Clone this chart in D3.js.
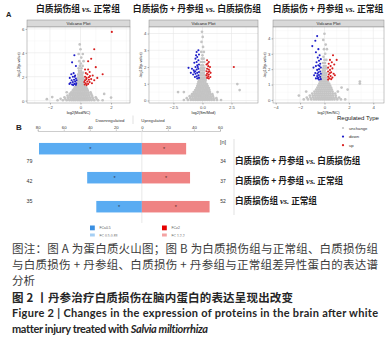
<!DOCTYPE html>
<html>
<head>
<meta charset="utf-8">
<script src="https://cdn.jsdelivr.net/npm/d3@7"></script>
<style>
  body { margin: 0; background: #fff; }
</style>
</head>
<body>
<div id="chart"></div>
<script>
// ---- data ----
var panelTitles = [
  ["白质损伤组", "vs.", "正常组"],
  ["白质损伤 + 丹参组", "vs.", "白质损伤组"],
  ["白质损伤 + 丹参组", "vs.", "正常组"]
];
var xLabels = ["log2(Mod/NC)", "log2(Sm/Mod)", "log2(Sm/NC)"];
var xTickVals = [[-2, 0, 2], [-2.5, 0, 2.5], [-4, -2, 0, 2, 4]];
var yTickVals = [[0, 2, 4, 6], [0, 1, 2, 3, 4], [0, 1, 2, 3, 4]];
var typeNames = ["unchange", "down", "up"];

// unchanged proteins, rows of [-log10 p, log2FC, log2FC, ...]
var flat1 = [
  [0.03, -1.5, -1.15, -0.9, -0.72, -0.58, -0.45, -0.33, -0.2, -0.08, 0.05, 0.17, 0.3, 0.43, 0.57, 0.72, 0.9, 1.15, 1.45],
  [0.15, -1.3, -1.0, -0.8, -0.64, -0.5, -0.38, -0.26, -0.14, -0.02, 0.1, 0.23, 0.36, 0.5, 0.65, 0.82, 1.05],
  [0.28, -1.05, -0.82, -0.66, -0.52, -0.4, -0.28, -0.16, -0.04, 0.08, 0.2, 0.33, 0.46, 0.6, 0.78, 1.0],
  [0.42, -0.85, -0.68, -0.54, -0.42, -0.3, -0.18, -0.06, 0.06, 0.18, 0.3, 0.43, 0.57, 0.75],
  [0.56, -0.7, -0.56, -0.44, -0.32, -0.2, -0.08, 0.04, 0.16, 0.28, 0.4, 0.53, 0.7, 1.55],
  [0.7, -0.9, -0.6, -0.47, -0.35, -0.23, -0.11, 0.01, 0.13, 0.25, 0.37, 0.5, 0.66],
  [0.85, -0.5, -0.38, -0.26, -0.14, -0.02, 0.1, 0.22, 0.34, 0.47],
  [1.0, -0.42, -0.3, -0.18, -0.06, 0.06, 0.18, 0.3, 0.42],
  [1.15, -0.35, -0.23, -0.11, 0.01, 0.13, 0.25, 0.36],
  [1.3, -0.24, -0.12, 0, 0.12, 0.24],
  [1.45, -0.2, -0.08, 0.04, 0.16],
  [1.6, -0.18, -0.06, 0.06, 0.18],
  [1.75, -0.15, -0.03, 0.09, 0.2],
  [1.9, -0.16, -0.04, 0.08, 0.18],
  [2.05, -0.12, 0, 0.12],
  [2.2, -0.14, -0.02, 0.1],
  [2.35, -0.08, 0.05, 0.17],
  [2.5, -0.1, 0.03],
  [2.7, 0.06, -0.12],
  [2.9, -0.04, 0.14],
  [3.1, 0.02],
  [3.3, -0.08, 0.2],
  [3.6, 0.05],
  [3.9, -0.12, 0.15],
  [4.3, 0.0],
  [4.7, -0.05],
  [0.3, -1.85], [0.12, -2.2], [0.25, 2.0]
];
var down1 = [[-0.4, 3.8], [-0.55, 3.2], [-0.3, 2.9], [-0.45, 2.3], [-0.6, 2.2], [-0.35, 2.1], [-0.5, 2.0],
  [-0.7, 1.9], [-0.3, 1.85], [-0.42, 1.75], [-0.58, 1.7], [-0.35, 1.6], [-0.5, 1.55], [-0.65, 1.5],
  [-0.28, 1.45], [-0.4, 1.4], [-0.55, 1.35], [-0.3, 1.32], [-0.48, 1.3], [-0.72, 1.4], [-0.38, 2.0], [-0.26, 1.7]];
var up1 = [[2.05, 5.75], [0.9, 4.3], [0.7, 3.5], [0.5, 3.3], [1.0, 2.8], [1.45, 2.2], [0.3, 2.6], [0.35, 2.3],
  [0.45, 2.2], [0.6, 2.4], [0.8, 2.1], [0.3, 2.0], [0.4, 1.9], [0.55, 1.95], [0.7, 1.8], [0.9, 1.7],
  [0.3, 1.7], [0.45, 1.6], [0.6, 1.55], [0.35, 1.45], [0.5, 1.4], [0.75, 1.45], [0.28, 1.35], [0.4, 1.3],
  [0.62, 2.05], [0.5, 2.6], [1.1, 1.9], [0.38, 1.8], [0.25, 1.55], [0.55, 1.75]];

var flat2 = [
  [0.03, -1.6, -1.25, -1.0, -0.8, -0.62, -0.46, -0.3, -0.15, 0, 0.15, 0.3, 0.46, 0.62, 0.8, 1.0, 1.25, 1.6],
  [0.14, -1.35, -1.05, -0.85, -0.66, -0.5, -0.34, -0.18, -0.03, 0.12, 0.27, 0.42, 0.58, 0.75, 0.95, 1.2],
  [0.26, -1.1, -0.88, -0.7, -0.54, -0.38, -0.22, -0.07, 0.08, 0.23, 0.38, 0.54, 0.7, 0.9],
  [0.38, -0.9, -0.72, -0.56, -0.4, -0.25, -0.1, 0.05, 0.2, 0.35, 0.5, 0.66, 0.85],
  [0.5, -2.1, -1.6, -0.75, -0.58, -0.42, -0.27, -0.12, 0.03, 0.18, 0.33, 0.48, 0.64, 1.3],
  [0.62, -0.62, -0.46, -0.3, -0.15, 0, 0.15, 0.3, 0.45, 0.6, 3.2],
  [0.74, -0.52, -0.36, -0.2, -0.05, 0.1, 0.25, 0.4, 0.55],
  [0.86, -0.45, -0.3, -0.15, 0, 0.15, 0.3, 0.45],
  [0.98, -0.4, -0.24, -0.08, 0.08, 0.24, 0.38, 3.0],
  [1.1, -0.35, -0.2, -0.05, 0.1, 0.25],
  [1.22, -0.3, -0.15, 0, 0.15, 0.28],
  [1.35, -0.22, -0.08, 0.06, 0.2],
  [1.5, -0.2, -0.05, 0.1, 0.22],
  [1.65, -0.18, -0.03, 0.12],
  [1.8, -0.15, 0, 0.15],
  [1.95, -0.12, 0.03, 0.16],
  [2.1, -0.1, 0.05],
  [2.3, -0.14, 0.02, 0.15],
  [2.5, -0.05, 0.1],
  [2.7, 0.0],
  [2.9, -0.1, 0.12],
  [3.2, 0.05],
  [3.5, -0.08],
  [3.8, 0.02],
  [4.1, -0.04]
];
var down2 = [[-0.35, 3.0], [-0.5, 2.9], [-0.3, 2.75], [-0.45, 2.6], [-0.6, 2.5], [-0.35, 2.4], [-0.5, 2.3],
  [-0.7, 2.25], [-0.3, 2.15], [-0.45, 2.1], [-0.6, 2.0], [-1.2, 1.95], [-0.9, 1.9], [-0.35, 1.9], [-0.5, 1.85],
  [-0.75, 1.8], [-0.3, 1.7], [-0.45, 1.65], [-0.6, 1.6], [-0.8, 1.55], [-0.35, 1.5], [-0.5, 1.45], [-0.65, 1.4],
  [-0.3, 1.35], [-0.45, 1.32], [-0.7, 1.7], [-1.0, 1.65], [-0.55, 2.7], [-0.4, 2.0], [-0.62, 1.75]];
var up2 = [[2.7, 2.0], [0.4, 2.4], [0.55, 2.3], [0.35, 2.15], [0.5, 2.05], [0.65, 2.0], [0.4, 1.9], [0.55, 1.85],
  [0.35, 1.75], [0.5, 1.7], [0.7, 1.65], [0.4, 1.6], [0.55, 1.55], [0.35, 1.5], [0.5, 1.45], [0.68, 1.4],
  [0.4, 1.35], [0.55, 1.32], [0.45, 2.2], [0.6, 1.75]];

var flat3 = [
  [0.03, -1.7, -1.35, -1.08, -0.86, -0.68, -0.5, -0.34, -0.18, -0.02, 0.14, 0.3, 0.46, 0.63, 0.82, 1.05, 1.35, 1.7],
  [0.15, -1.45, -1.15, -0.92, -0.73, -0.56, -0.4, -0.24, -0.08, 0.08, 0.24, 0.4, 0.56, 0.74, 0.95, 1.2],
  [0.28, -2.1, -1.2, -0.96, -0.77, -0.6, -0.44, -0.28, -0.12, 0.04, 0.2, 0.36, 0.52, 0.7, 0.92],
  [0.41, -1.0, -0.8, -0.62, -0.46, -0.3, -0.14, 0.02, 0.18, 0.34, 0.5, 0.68, 0.88],
  [0.54, -1.5, -0.82, -0.64, -0.48, -0.32, -0.16, 0, 0.16, 0.32, 0.48, 0.66, 1.1],
  [0.67, -0.68, -0.52, -0.36, -0.2, -0.04, 0.12, 0.28, 0.44, 0.6, 1.9],
  [0.8, -0.58, -0.42, -0.26, -0.1, 0.06, 0.22, 0.38, 0.54, 1.4],
  [0.93, -0.5, -0.34, -0.18, -0.02, 0.14, 0.3, 0.46],
  [1.06, -0.42, -0.26, -0.1, 0.06, 0.22, 0.38, 2.9],
  [1.19, -0.36, -0.2, -0.04, 0.12, 0.28, 2.9],
  [1.32, -0.28, -0.12, 0.04, 0.2],
  [1.45, -0.22, -0.06, 0.1],
  [1.6, -0.2, -0.04, 0.12],
  [1.75, -0.16, 0, 0.15],
  [1.9, -0.14, 0.02],
  [2.05, -0.1, 0.06, 0.2],
  [2.2, -0.06, 0.1],
  [2.4, -0.12, 0.04],
  [2.6, 0.0, 0.15],
  [2.8, -0.08],
  [3.0, 0.06],
  [3.3, -0.04, 0.2],
  [3.6, 0.1],
  [3.9, -0.1],
  [4.3, 0.0]
];
var down3 = [[-0.6, 4.15], [-0.75, 3.85], [-1.0, 3.5], [-0.5, 3.3], [-0.7, 3.1], [-0.4, 2.9], [-0.55, 2.75],
  [-0.3, 2.65], [-0.45, 2.55], [-0.65, 2.45], [-0.35, 2.35], [-0.5, 2.25], [-0.7, 2.2], [-0.9, 2.1], [-0.3, 2.1],
  [-0.45, 2.0], [-0.6, 1.95], [-0.35, 1.85], [-0.5, 1.8], [-0.75, 1.75], [-0.3, 1.7], [-0.45, 1.62], [-0.6, 1.55],
  [-0.35, 1.5], [-0.5, 1.45], [-0.7, 1.4], [-0.3, 1.35], [-0.45, 1.32], [-0.58, 1.7], [-0.4, 2.2], [-0.55, 1.4], [-0.85, 1.6]];
var up3 = [[0.7, 2.9], [0.45, 2.6], [1.0, 2.6], [0.6, 2.45], [0.35, 2.35], [0.8, 2.3], [0.5, 2.2], [0.3, 2.1],
  [0.65, 2.05], [0.45, 1.95], [0.3, 1.85], [0.55, 1.8], [0.75, 1.7], [0.35, 1.65], [0.5, 1.55], [0.3, 1.5],
  [0.65, 1.45], [0.4, 1.4], [0.55, 1.35], [0.3, 1.32], [0.85, 1.6], [0.45, 1.75]];

// panel B
var barComparisons = ["白质损伤 + 丹参组 vs. 白质损伤组", "白质损伤 + 丹参组 vs. 正常组", "白质损伤组 vs. 正常组"];
var downCounts = [79, 42, 35];
var upCounts = [34, 37, 52];
var barTicks = [-80, -60, -40, -20, 0, 20, 40, 60];
var fcLegend = [["FC≤0.5", "FC≥2"], ["FC 0.5-0.83", "FC 1.2-2"]];

var captionLines = [
  "图注：图 A 为蛋白质火山图；图 B 为白质损伤组与正常组、白质损伤组",
  "与白质损伤 + 丹参组、白质损伤 + 丹参组与正常组差异性蛋白的表达谱",
  "分析"
];
var figTitleCn = "图 2 丨丹参治疗白质损伤在脑内蛋白的表达呈现出改变";
var figTitleEn = "Figure 2  |  Changes in the expression of proteins in the brain after white";
var figTitleEn2 = ["matter injury treated with ", "Salvia miltiorrhiza"];

// ---- layout ----
var W = 388, H = 344;
var CJK = "'Noto Sans CJK SC', sans-serif";
var SANS = "'Liberation Sans', Arial, sans-serif";
var typeColor = { unchange: "#c4c4c4", down: "#1f1fc8", up: "#d81e1e" };

var panels = [
  { left: 27, right: 130, top: 27, bottom: 103, xDom: [-3.5, 3.24], yDom: [-0.2, 6.16], titleX: 78,
    flat: flat1, down: down1, up: up1, fmt: d3.format("d") },
  { left: 149, right: 258, top: 27, bottom: 103, xDom: [-4.6, 4.78], yDom: [-0.15, 4.39], titleX: 197,
    flat: flat2, down: down2, up: up2, fmt: d3.format(".1f") },
  { left: 273, right: 384, top: 27, bottom: 103, xDom: [-4.22, 4.88], yDom: [-0.2, 4.74], titleX: 328,
    flat: flat3, down: down3, up: up3, fmt: d3.format("d") }
];

var svg = d3.select("#chart").append("svg")
  .attr("width", W).attr("height", H)
  .style("background", "#fff");

function addVs(textSel, parts) {
  textSel.append("tspan").text(parts[0] + " ");
  textSel.append("tspan").attr("font-family", "'Liberation Serif', serif")
    .attr("font-style", "italic").attr("font-weight", "bold").text(parts[1]);
  textSel.append("tspan").text(" " + parts[2]);
}

// panel letters
svg.append("text").attr("x", 6).attr("y", 17).text("A")
  .attr("font-family", SANS).attr("font-weight", "bold").attr("font-size", 7.5).attr("fill", "#222");
svg.append("text").attr("x", 16).attr("y", 130).text("B")
  .attr("font-family", SANS).attr("font-weight", "bold").attr("font-size", 8).attr("fill", "#222");

panels.forEach(function(p, i) {
  var x = d3.scaleLinear().domain(p.xDom).range([p.left, p.right]);
  var y = d3.scaleLinear().domain(p.yDom).range([p.bottom, p.top]);
  var g = svg.append("g");

  // title
  var t = g.append("text").attr("x", p.titleX).attr("y", 12)
    .attr("text-anchor", "middle").attr("font-family", CJK).attr("font-weight", "bold")
    .attr("font-size", 8.8).attr("fill", "#1a1a1a");
  addVs(t, panelTitles[i]);

  // strip
  g.append("rect").attr("x", p.left).attr("y", p.top - 7).attr("width", p.right - p.left).attr("height", 7)
    .attr("fill", "#d9d9d9").attr("stroke", "#8c8c8c").attr("stroke-width", 0.5);
  g.append("text").attr("x", (p.left + p.right) / 2).attr("y", p.top - 2)
    .attr("text-anchor", "middle").attr("font-family", SANS).attr("font-size", 4.3)
    .attr("fill", "#1a1a1a").text("Volcano Plot");

  // panel + grid
  g.append("rect").attr("x", p.left).attr("y", p.top).attr("width", p.right - p.left).attr("height", p.bottom - p.top)
    .attr("fill", "#fff");
  var xt = xTickVals[i], yt = yTickVals[i];
  var xs = xt[1] - xt[0], ys = yt[1] - yt[0];
  var xMinor = d3.range(-1, xt.length).map(function(k) { return xt[0] + xs * (k + 0.5); })
    .filter(function(v) { return v > p.xDom[0] && v < p.xDom[1]; });
  var yMinor = d3.range(-1, yt.length).map(function(k) { return yt[0] + ys * (k + 0.5); })
    .filter(function(v) { return v > p.yDom[0] && v < p.yDom[1]; });
  g.selectAll(".vminor").data(xMinor).enter().append("line")
    .attr("x1", x).attr("x2", x).attr("y1", p.top).attr("y2", p.bottom)
    .attr("stroke", "#f2f2f2").attr("stroke-width", 0.4);
  g.selectAll(".hminor").data(yMinor).enter().append("line")
    .attr("y1", y).attr("y2", y).attr("x1", p.left).attr("x2", p.right)
    .attr("stroke", "#f2f2f2").attr("stroke-width", 0.4);
  g.selectAll(".vmajor").data(xt).enter().append("line")
    .attr("x1", x).attr("x2", x).attr("y1", p.top).attr("y2", p.bottom)
    .attr("stroke", "#e6e6e6").attr("stroke-width", 0.6);
  g.selectAll(".hmajor").data(yt).enter().append("line")
    .attr("y1", y).attr("y2", y).attr("x1", p.left).attr("x2", p.right)
    .attr("stroke", "#e6e6e6").attr("stroke-width", 0.6);

  // points
  var flatPts = [];
  p.flat.forEach(function(row) {
    row.slice(1).forEach(function(fc) { flatPts.push([fc, row[0], "unchange"]); });
  });
  var pts = flatPts
    .concat(p.down.map(function(d) { return [d[0], d[1], "down"]; }))
    .concat(p.up.map(function(d) { return [d[0], d[1], "up"]; }));
  g.selectAll(".pt").data(pts).enter().append("circle")
    .attr("cx", function(d) { return x(d[0]); })
    .attr("cy", function(d) { return y(d[1]); })
    .attr("r", function(d) { return d[2] === "unchange" ? 1.35 : 1.05; })
    .attr("fill", function(d) { return typeColor[d[2]]; });

  g.append("rect").attr("x", p.left).attr("y", p.top).attr("width", p.right - p.left).attr("height", p.bottom - p.top)
    .attr("fill", "none").attr("stroke", "#8c8c8c").attr("stroke-width", 0.5);

  // axes
  var ax = g.append("g").attr("transform", "translate(0," + p.bottom + ")")
    .call(d3.axisBottom(x).tickValues(xt).tickSize(1.5).tickPadding(1).tickFormat(p.fmt));
  var ay = g.append("g").attr("transform", "translate(" + p.left + ",0)")
    .call(d3.axisLeft(y).tickValues(yt).tickSize(1.5).tickPadding(1).tickFormat(d3.format("d")));
  [ax, ay].forEach(function(a) {
    a.select(".domain").remove();
    a.selectAll("line").attr("stroke", "#4d4d4d").attr("stroke-width", 0.4);
    a.selectAll("text").attr("font-family", SANS).attr("font-size", 4.3).attr("fill", "#4d4d4d");
  });

  g.append("text").attr("x", (p.left + p.right) / 2).attr("y", p.bottom + 10.5)
    .attr("text-anchor", "middle").attr("font-family", SANS).attr("font-size", 3.8)
    .attr("fill", "#1a1a1a").text(xLabels[i]);
  g.append("text").attr("transform", "translate(" + (p.left - 7) + "," + ((p.top + p.bottom) / 2) + ") rotate(-90)")
    .attr("text-anchor", "middle").attr("font-family", SANS).attr("font-size", 3.8)
    .attr("fill", "#1a1a1a").text("-log10(p-value)");
});

// regulated type legend
var lg = svg.append("g");
lg.append("text").attr("x", 337).attr("y", 120).text("Regulated Type")
  .attr("font-family", SANS).attr("font-size", 6).attr("fill", "#1a1a1a");
lg.selectAll(".li").data(typeNames).enter().append("circle")
  .attr("cx", 343).attr("cy", function(d, k) { return 128 + k * 8.6; })
  .attr("r", 1.1).attr("fill", function(d) { return typeColor[d]; });
lg.selectAll(".lt").data(typeNames).enter().append("text")
  .attr("x", 349).attr("y", function(d, k) { return 129.5 + k * 8.6; })
  .attr("font-family", SANS).attr("font-size", 4.2).attr("fill", "#333").text(function(d) { return d; });

// ---- panel B: bars ----
var bx = d3.scaleLinear().domain([-80, 60]).range([37.7, 220]);
var by = d3.scalePoint().domain(barComparisons).range([148.7, 206.7]);
var ly = d3.scalePoint().domain(barComparisons).range([161, 201]);
var barH = 11.5;
var bg = svg.append("g");

bg.append("text").attr("x", 110).attr("y", 121.5).attr("text-anchor", "middle")
  .attr("font-family", SANS).attr("font-size", 4.3).attr("fill", "#333").text("Downregulated");
bg.append("text").attr("x", 153).attr("y", 121.5).attr("text-anchor", "middle")
  .attr("font-family", SANS).attr("font-size", 4.3).attr("fill", "#333").text("Upregulated");
bg.append("line").attr("x1", 133).attr("x2", 133).attr("y1", 115.5).attr("y2", 124)
  .attr("stroke", "#cfcfcf").attr("stroke-width", 0.6);

var bAxis = bg.append("g").attr("transform", "translate(0,131)")
  .call(d3.axisTop(bx).tickValues(barTicks).tickSize(1.5).tickPadding(1)
    .tickFormat(function(d) { return Math.abs(d); }));
bAxis.select(".domain").attr("stroke", "#9a9a9a").attr("stroke-width", 0.5);
bAxis.selectAll("line").attr("stroke", "#9a9a9a").attr("stroke-width", 0.5);
bAxis.selectAll("text").attr("font-family", SANS).attr("font-size", 4.3).attr("fill", "#333");

bg.append("line").attr("x1", bx(0)).attr("x2", bx(0)).attr("y1", 131).attr("y2", 223)
  .attr("stroke", "#e3e3e3").attr("stroke-width", 0.8);

bg.selectAll(".down").data(barComparisons).enter().append("rect")
  .attr("x", function(d, k) { return bx(-downCounts[k]); })
  .attr("y", function(d) { return by(d) - barH / 2; })
  .attr("width", function(d, k) { return bx(0) - bx(-downCounts[k]); })
  .attr("height", barH).attr("fill", "#5aacf2");
bg.selectAll(".up").data(barComparisons).enter().append("rect")
  .attr("x", bx(0))
  .attr("y", function(d) { return by(d) - barH / 2; })
  .attr("width", function(d, k) { return bx(upCounts[k]) - bx(0); })
  .attr("height", barH).attr("fill", "#ef8383");

// star marks in the middle of each bar
bg.selectAll(".sd").data(barComparisons).enter().append("text")
  .attr("x", function(d, k) { return bx(-downCounts[k] / 2); })
  .attr("y", function(d) { return by(d) + 2.2; })
  .attr("text-anchor", "middle").attr("font-family", SANS).attr("font-size", 5.5)
  .attr("fill", "#2b3a55").text("*");
bg.selectAll(".su").data(barComparisons).enter().append("text")
  .attr("x", function(d, k) { return bx(upCounts[k] / 2); })
  .attr("y", function(d) { return by(d) + 2.2; })
  .attr("text-anchor", "middle").attr("font-family", SANS).attr("font-size", 5.5)
  .attr("fill", "#5a2b2b").text("*");

// counts
bg.selectAll(".nd").data(barComparisons).enter().append("text")
  .attr("x", 32.5).attr("y", function(d) { return ly(d) + 2; })
  .attr("text-anchor", "end").attr("font-family", SANS).attr("font-size", 5.3)
  .attr("fill", "#333").text(function(d, k) { return downCounts[k]; });
bg.append("text").attr("x", 223).attr("y", 144).attr("text-anchor", "middle")
  .attr("font-family", SANS).attr("font-size", 5.5).attr("fill", "#333").text("[n]");
bg.selectAll(".nu").data(barComparisons).enter().append("text")
  .attr("x", 223).attr("y", function(d) { return ly(d) + 2; })
  .attr("text-anchor", "middle").attr("font-family", SANS).attr("font-size", 5)
  .attr("fill", "#333").text(function(d, k) { return upCounts[k]; });
bg.append("line").attr("x1", 234).attr("x2", 234).attr("y1", 139).attr("y2", 215)
  .attr("stroke", "#cfcfcf").attr("stroke-width", 0.6);
bg.selectAll(".cmp").data(barComparisons).enter().append("text")
  .attr("x", 235).attr("y", function(d) { return ly(d) + 3.2; })
  .attr("font-family", CJK).attr("font-weight", "bold").attr("font-size", 8.6).attr("fill", "#1a1a1a")
  .each(function(d) {
    var parts = d.split(" vs. ");
    addVs(d3.select(this), [parts[0], "vs.", parts[1]]);
  });

// FC legend
var fcColors = [["#3a8fe2", "#e60000"], ["#a5cff4", "#f4a3a3"]];
var fcX = [90, 162];
fcLegend.forEach(function(row, r) {
  row.forEach(function(label, c) {
    bg.append("rect").attr("x", fcX[c]).attr("y", 225.5 + r * 8).attr("width", 4.8).attr("height", 4.8)
      .attr("fill", fcColors[r][c]);
    bg.append("text").attr("x", fcX[c] + 9.5).attr("y", 229.3 + r * 8)
      .attr("font-family", SANS).attr("font-size", 3.4).attr("fill", "#555").text(label);
  });
});

// ---- caption ----
var cap = svg.append("g");
// white band to crop the figure bottom
cap.append("rect").attr("x", 0).attr("y", 236.5).attr("width", W).attr("height", H - 236.5).attr("fill", "#fff");
var capY = [252.5, 268.7, 284.8];
captionLines.forEach(function(line, k) {
  var t = cap.append("text").attr("x", 12).attr("y", capY[k])
    .attr("font-family", CJK).attr("font-size", 11.5).attr("fill", "#3b3b3b").text(line);
  if (k < 2) t.attr("textLength", 366).attr("lengthAdjust", "spacing");
});
cap.append("text").attr("x", 12).attr("y", 301.5)
  .attr("font-family", CJK).attr("font-weight", "bold").attr("font-size", 11.5).attr("fill", "#262626")
  .attr("textLength", 281).attr("lengthAdjust", "spacing").text(figTitleCn);
cap.append("text").attr("x", 12).attr("y", 316.5)
  .attr("font-family", "Lato, 'Open Sans', sans-serif").attr("font-weight", "bold").attr("font-size", 11)
  .attr("fill", "#262626").attr("textLength", 366).attr("lengthAdjust", "spacing").text(figTitleEn);
var en2 = cap.append("text").attr("x", 12).attr("y", 333)
  .attr("font-family", "Lato, 'Open Sans', sans-serif").attr("font-weight", "bold").attr("font-size", 11)
  .attr("letter-spacing", -0.35).attr("fill", "#262626");
en2.append("tspan").text(figTitleEn2[0]);
en2.append("tspan").attr("font-style", "italic").text(figTitleEn2[1]);
</script>
</body>
</html>
